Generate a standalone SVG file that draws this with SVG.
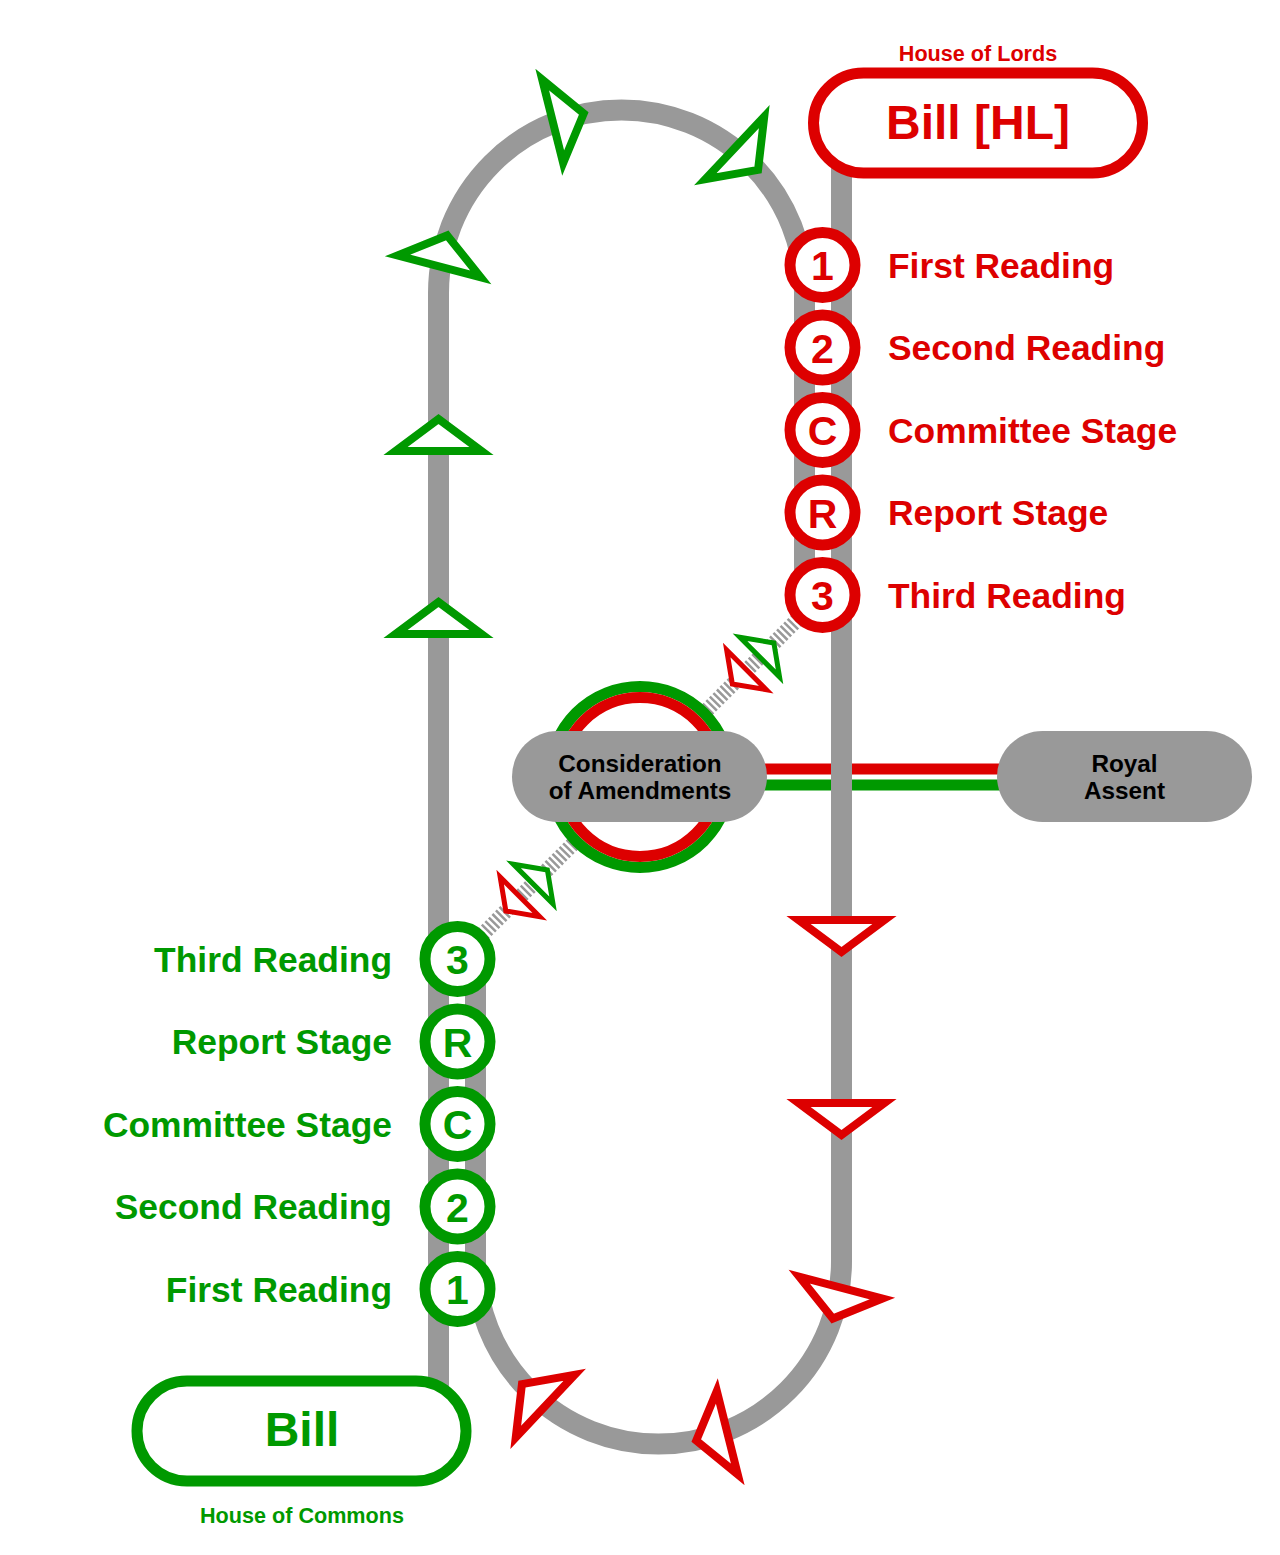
<svg xmlns="http://www.w3.org/2000/svg" xmlns:xlink="http://www.w3.org/1999/xlink" width="1280" height="1555" viewBox="0 0 1280 1555">
<style>
.track{fill:none;stroke:#999999;stroke-width:21}
.hatch{fill:none;stroke:#999999;stroke-width:15;stroke-dasharray:2.5 2.5}
.g{fill:#009900}
.r{fill:#dd0000}
.gs{stroke:#009900}
.rs{stroke:#dd0000}
.stn{fill:#ffffff;stroke-width:11}
.big{fill:#ffffff;stroke-width:8;stroke-linejoin:miter}
.small{fill:#ffffff;stroke-width:5;stroke-linejoin:miter}
text{font-family:"Liberation Sans",Arial,Helvetica,sans-serif;font-weight:bold}
.num{font-size:41px;text-anchor:middle}
.lbl{font-size:35.4px}
.house{font-size:21.6px;text-anchor:middle}
.bill{font-size:48px;text-anchor:middle}
.pill{fill:#999999}
.ptext{font-size:24.3px;text-anchor:middle;fill:#000000}
</style>
<defs>
<polygon id="arr" points="0,-16 43,16 -43,16"/>
<polygon id="arrs" points="0,-10 28,10 -28,10"/>
</defs>

<g id="connectors">
<line x1="700" y1="769" x2="1050" y2="769" stroke="#dd0000" stroke-width="11"/>
<line x1="700" y1="785" x2="1050" y2="785" stroke="#009900" stroke-width="11"/>
<line class="hatch" x1="640" y1="777" x2="804.5" y2="612.5"/>
<line class="hatch" x1="640" y1="777" x2="475.5" y2="941.5"/>
<path class="track" d="M438.5,1400 V293 A183,183 0 0 1 804.5,293 V612.5"/>
<path class="track" d="M841.5,150 V1261 A183,183 0 0 1 475.5,1261 V941.5"/>
<g class="gs">
<use xlink:href="#arr" class="big" transform="translate(443.2,250.9) rotate(14.7)"/>
<use xlink:href="#arr" class="big" transform="translate(568.2,117.4) rotate(75.9)"/>
<use xlink:href="#arr" class="big" transform="translate(746.4,158.9) rotate(133.3)"/>
<use xlink:href="#arr" class="big" transform="translate(438.5,435)"/>
<use xlink:href="#arr" class="big" transform="translate(438.5,618)"/>
<use xlink:href="#arrs" class="small" transform="translate(766.8,650) rotate(45)"/>
<use xlink:href="#arrs" class="small" transform="translate(540.3,877) rotate(45)"/>
</g>
<g class="rs">
<use xlink:href="#arr" class="big" transform="translate(841.5,936) rotate(180)"/>
<use xlink:href="#arr" class="big" transform="translate(841.5,1119) rotate(180)"/>
<use xlink:href="#arr" class="big" transform="translate(836.8,1303.1) rotate(194.7)"/>
<use xlink:href="#arr" class="big" transform="translate(711.8,1436.6) rotate(255.9)"/>
<use xlink:href="#arr" class="big" transform="translate(533.6,1395.1) rotate(313.3)"/>
<use xlink:href="#arrs" class="small" transform="translate(739.4,676.9) rotate(225)"/>
<use xlink:href="#arrs" class="small" transform="translate(512.9,903.9) rotate(225)"/>
</g>
</g>

<g id="consideration">
<circle cx="640" cy="777" r="90.5" fill="#ffffff" stroke="#009900" stroke-width="11"/>
<circle cx="640" cy="777" r="79.5" fill="#ffffff" stroke="#dd0000" stroke-width="11"/>
<rect class="pill" x="512" y="731" width="255" height="91" rx="45.5"/>
<text class="ptext" x="640" y="772">Consideration</text>
<text class="ptext" x="640" y="799">of Amendments</text>
</g>

<g id="royal-assent">
<rect class="pill" x="997" y="731" width="255" height="91" rx="45.5"/>
<text class="ptext" x="1124.5" y="772">Royal</text>
<text class="ptext" x="1124.5" y="799">Assent</text>
</g>

<g id="bill-hl">
<rect x="813.5" y="73" width="329" height="100" rx="50" fill="#ffffff" stroke="#dd0000" stroke-width="11"/>
<text class="bill r" x="978" y="139">Bill [HL]</text>
<text class="house r" x="978" y="61">House of Lords</text>
</g>

<g id="bill">
<rect x="137" y="1381" width="329" height="100" rx="50" fill="#ffffff" stroke="#009900" stroke-width="11"/>
<text class="bill g" x="302" y="1446">Bill</text>
<text class="house g" x="302" y="1523">House of Commons</text>
</g>

<g id="lords-1"><circle class="stn rs" cx="822.5" cy="265" r="32.5"/><text class="num r" x="822.5" y="280">1</text><text class="lbl r" x="888" y="277.5">First Reading</text></g>
<g id="lords-2"><circle class="stn rs" cx="822.5" cy="347.5" r="32.5"/><text class="num r" x="822.5" y="362.5">2</text><text class="lbl r" x="888" y="360">Second Reading</text></g>
<g id="lords-c"><circle class="stn rs" cx="822.5" cy="430" r="32.5"/><text class="num r" x="822.5" y="445">C</text><text class="lbl r" x="888" y="442.5">Committee Stage</text></g>
<g id="lords-r"><circle class="stn rs" cx="822.5" cy="512.5" r="32.5"/><text class="num r" x="822.5" y="527.5">R</text><text class="lbl r" x="888" y="525">Report Stage</text></g>
<g id="lords-3"><circle class="stn rs" cx="822.5" cy="595" r="32.5"/><text class="num r" x="822.5" y="610">3</text><text class="lbl r" x="888" y="607.5">Third Reading</text></g>

<g id="commons-3"><circle class="stn gs" cx="457.5" cy="959" r="32.5"/><text class="num g" x="457.5" y="974">3</text><text class="lbl g" x="392" y="971.5" text-anchor="end">Third Reading</text></g>
<g id="commons-r"><circle class="stn gs" cx="457.5" cy="1041.5" r="32.5"/><text class="num g" x="457.5" y="1056.5">R</text><text class="lbl g" x="392" y="1054" text-anchor="end">Report Stage</text></g>
<g id="commons-c"><circle class="stn gs" cx="457.5" cy="1124" r="32.5"/><text class="num g" x="457.5" y="1139">C</text><text class="lbl g" x="392" y="1136.5" text-anchor="end">Committee Stage</text></g>
<g id="commons-2"><circle class="stn gs" cx="457.5" cy="1206.5" r="32.5"/><text class="num g" x="457.5" y="1221.5">2</text><text class="lbl g" x="392" y="1219" text-anchor="end">Second Reading</text></g>
<g id="commons-1"><circle class="stn gs" cx="457.5" cy="1289" r="32.5"/><text class="num g" x="457.5" y="1304">1</text><text class="lbl g" x="392" y="1301.5" text-anchor="end">First Reading</text></g>
</svg>
